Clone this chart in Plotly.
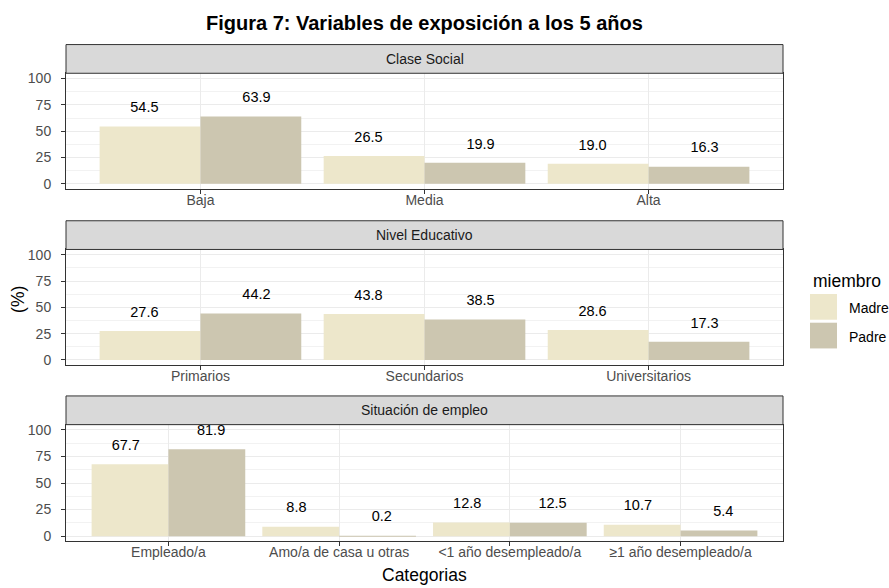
import plotly.graph_objects as go
import numpy as np

# ---- data ----
panel_titles = ["Clase Social", "Nivel Educativo", "Situación de empleo"]
cat_clase = ["Baja", "Media", "Alta"]
madre_clase = [54.5, 26.5, 19.0]
padre_clase = [63.9, 19.9, 16.3]

cat_educ = ["Primarios", "Secundarios", "Universitarios"]
madre_educ = [27.6, 43.8, 28.6]
padre_educ = [44.2, 38.5, 17.3]

cat_empleo = ["Empleado/a", "Amo/a de casa u otras", "<1 año desempleado/a", "≥1 año desempleado/a"]
madre_empleo = [67.7, 8.8, 12.8, 10.7]
padre_empleo = [81.9, 0.2, 12.5, 5.4]

y_ticks = [0, 25, 50, 75, 100]
series_names = ["Madre", "Padre"]
colors = {"Madre": "#EDE7CB", "Padre": "#CCC6B0"}

panels = [
    (cat_clase, madre_clase, padre_clase),
    (cat_educ, madre_educ, padre_educ),
    (cat_empleo, madre_empleo, padre_empleo),
]

# ---- layout geometry (pixels) ----
W, H = 889, 588
FONT = "Liberation Sans, Arial, sans-serif"
X0, X1 = 66, 783
# (strip_top, strip_bottom=plot_top, plot_bottom)
geom = [(42, 71, 188), (220, 249, 366), (397, 426, 544)]
BAR_W = 0.45
LABEL_DODGE = 0.25
LABEL_NUDGE = 17


def px(x):
    return x / W


def py(y):
    return 1 - y / H


fig = go.Figure()
shapes = []
annotations = []

for k, ((cats, madre, padre), (st, sb, pb)) in enumerate(zip(panels, geom)):
    idx = np.arange(len(cats))
    xa = "x" if k == 0 else f"x{k+1}"
    ya = "y" if k == 0 else f"y{k+1}"
    for name, vals, sgn in (("Madre", madre, -1), ("Padre", padre, 1)):
        fig.add_trace(go.Bar(
            x=idx + sgn * BAR_W / 2, y=vals, width=BAR_W,
            marker=dict(color=colors[name], line=dict(width=0)),
            name=name, showlegend=False, xaxis=xa, yaxis=ya,
            hovertemplate=name + ": %{y}<extra></extra>",
        ))
        fig.add_trace(go.Scatter(
            x=idx + sgn * LABEL_DODGE, y=np.array(vals) + LABEL_NUDGE,
            text=[f"{v:.1f}" for v in vals], mode="text",
            textposition="middle center",
            textfont=dict(family=FONT, size=14.5, color="#000000"),
            showlegend=False, hoverinfo="skip", xaxis=xa, yaxis=ya,
            cliponaxis=False,
        ))
    axis_common = dict(
        showline=True, mirror=True, linecolor="#333333", linewidth=1,
        ticks="outside", ticklen=4, tickwidth=1, tickcolor="#333333",
        zeroline=False, showgrid=True, gridcolor="#EBEBEB", gridwidth=1,
        tickfont=dict(family=FONT, size=14, color="#4D4D4D"),
    )
    xkey = "xaxis" if k == 0 else f"xaxis{k+1}"
    ykey = "yaxis" if k == 0 else f"yaxis{k+1}"
    fig.layout[xkey] = dict(
        axis_common, domain=[px(X0), px(X1)], anchor=ya,
        range=[-0.6, len(cats) - 0.4], tickmode="array",
        tickvals=list(idx), ticktext=cats, ticklabelstandoff=-6,
    )
    fig.layout[ykey] = dict(
        axis_common, domain=[py(pb), py(sb)], anchor=xa,
        range=[-5, 105], tickmode="array", tickvals=y_ticks,
        ticklabelstandoff=7,
        minor=dict(tick0=0, dtick=12.5, showgrid=True,
                   gridcolor="#F2F2F2", gridwidth=0.6),
    )
    # strip
    shapes.append(dict(type="rect", xref="paper", yref="paper",
                       x0=px(X0), x1=px(X1), y0=py(sb), y1=py(st),
                       fillcolor="#D9D9D9", line=dict(color="#333333", width=1),
                       layer="above"))
    annotations.append(dict(xref="paper", yref="paper",
                            x=px((X0 + X1) / 2), y=py((st + sb) / 2),
                            text=panel_titles[k], showarrow=False,
                            xanchor="center", yanchor="middle",
                            font=dict(family=FONT, size=14, color="#1A1A1A")))

# legend (manual, ggplot style)
annotations.append(dict(xref="paper", yref="paper", x=px(811), y=py(281),
                        text="miembro", showarrow=False, xanchor="left",
                        yanchor="middle",
                        font=dict(family=FONT, size=17.5, color="#000000")))
for i, name in enumerate(series_names):
    top = 294 + i * 29
    shapes.append(dict(type="rect", xref="paper", yref="paper",
                       x0=px(810), x1=px(837), y0=py(top + 26), y1=py(top),
                       fillcolor=colors[name], line=dict(width=0)))
    annotations.append(dict(xref="paper", yref="paper", x=px(847),
                            y=py(top + 14), text=name, showarrow=False,
                            xanchor="left", yanchor="middle",
                            font=dict(family=FONT, size=14, color="#000000")))

# axis titles
annotations.append(dict(xref="paper", yref="paper", x=px((X0 + X1) / 2),
                        y=py(578), text="Categorias", showarrow=False,
                        xanchor="center", yanchor="middle",
                        font=dict(family=FONT, size=17.5, color="#000000")))
annotations.append(dict(xref="paper", yref="paper", x=px(18), y=py(300),
                        text="(%)", showarrow=False, textangle=-90,
                        xanchor="center", yanchor="middle",
                        font=dict(family=FONT, size=17.5, color="#000000")))
# title
annotations.append(dict(xref="paper", yref="paper", x=px((X0 + X1) / 2),
                        y=py(20), text="<b>Figura 7: Variables de exposición a los 5 años</b>",
                        showarrow=False, xanchor="center", yanchor="middle",
                        font=dict(family=FONT, size=20, color="#000000")))

fig.update_layout(
    width=W, height=H, margin=dict(l=0, r=0, t=0, b=0),
    paper_bgcolor="white", plot_bgcolor="white",
    shapes=shapes, annotations=annotations, showlegend=False,
    barmode="overlay",
)

fig.write_html("out.html", config={"displayModeBar": False},
               post_script="document.body.style.margin='0px';document.body.style.overflow='hidden';")
